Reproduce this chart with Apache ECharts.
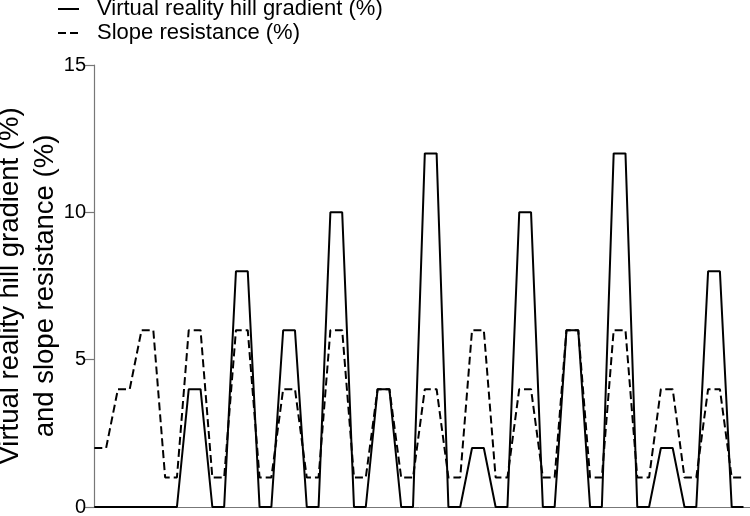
<!DOCTYPE html>
<html>
<head>
<meta charset="utf-8">
<script src="https://cdn.jsdelivr.net/npm/echarts@6/dist/echarts.min.js"></script>
<style>
	html, body { margin: 0; padding: 0; background: #fff; }
	#chart { width: 750px; height: 516px; }
</style>
</head>
<body>
<div id="chart"></div>
<script>
// sample index along the protocol (one point per step)
var steps = [0, 1, 2, 3, 4, 5, 6, 7, 8, 9, 10, 11, 12, 13, 14, 15, 16, 17, 18, 19,
	20, 21, 22, 23, 24, 25, 26, 27, 28, 29, 30, 31, 32, 33, 34, 35, 36, 37, 38, 39,
	40, 41, 42, 43, 44, 45, 46, 47, 48, 49, 50, 51, 52, 53, 54, 55];

var hillGradient = [0, 0, 0, 0, 0, 0, 0, 0,
	4, 4, 0, 0, 8, 8, 0, 0, 6, 6, 0, 0, 10, 10, 0, 0,
	4, 4, 0, 0, 12, 12, 0, 0, 2, 2, 0, 0, 10, 10, 0, 0,
	6, 6, 0, 0, 12, 12, 0, 0, 2, 2, 0, 0, 8, 8, 0, 0];

var slopeResistance = [2, 2, 4, 4, 6, 6, 1, 1,
	6, 6, 1, 1, 6, 6, 1, 1, 4, 4, 1, 1, 6, 6, 1, 1,
	4, 4, 1, 1, 4, 4, 1, 1, 6, 6, 1, 1, 4, 4, 1, 1,
	6, 6, 1, 1, 6, 6, 1, 1, 4, 4, 1, 1, 4, 4, 1, 1];

var yTicks = [0, 5, 10, 15];

var name1 = 'Virtual reality hill gradient (%)';
var name2 = 'Slope resistance (%)';

function pairs(xs, ys) {
	let out = [];
	for (let i = 0; i < xs.length; i++) {
		out.push([xs[i], ys[i]]);
	}
	return out;
}

let chartDom = document.getElementById('chart');
let myChart = echarts.init(chartDom, null, { renderer: 'canvas' });
let option;

option = {
	animation: false,
	textStyle: { fontFamily: 'Liberation Sans' },
	legend: {
		data: [name1, name2],
		orient: 'vertical',
		left: 57,
		top: -3,
		padding: 0,
		itemGap: 0,
		itemWidth: 21,
		itemHeight: 14,
		// hide the marker dot, keep only the line sample
		itemStyle: { color: 'rgba(0,0,0,0)', borderWidth: 0 },
		textStyle: {
			fontSize: 22,
			lineHeight: 24,
			color: '#000',
			padding: [0, 0, 0, 13]
		}
	},
	grid: {
		left: 89,
		right: 0,
		top: 65,
		bottom: 9,
		containLabel: false,
		outerBoundsMode: 'none'
	},
	xAxis: {
		type: 'value',
		min: -0.45,
		max: 55.55,
		axisLine: { show: true, lineStyle: { color: '#777', width: 1 } },
		axisTick: { show: false },
		axisLabel: { show: false },
		splitLine: { show: false }
	},
	yAxis: {
		type: 'value',
		min: yTicks[0],
		max: yTicks[yTicks.length - 1],
		interval: 5,
		name: name1 + '\nand slope resistance (%)',
		nameLocation: 'middle',
		nameRotate: 90,
		nameGap: 26,
		nameMoveOverlap: false,
		nameTextStyle: {
			fontSize: 27.5,
			lineHeight: 35,
			color: '#000'
		},
		axisLine: { show: true, lineStyle: { color: '#777', width: 1.2 } },
		axisTick: { show: true, length: 10, lineStyle: { color: '#777', width: 1.2 } },
		axisLabel: { fontSize: 20, color: '#000', margin: 3 },
		splitLine: { show: false }
	},
	series: [{
		name: name2,
		type: 'line',
		symbol: 'none',
		data: pairs(steps, slopeResistance),
		lineStyle: { color: '#000', width: 2, type: [8, 4] },
		itemStyle: { color: '#000' },
		z: 2
	}, {
		name: name1,
		type: 'line',
		symbol: 'none',
		data: pairs(steps, hillGradient),
		lineStyle: { color: '#000', width: 2 },
		itemStyle: { color: '#000' },
		z: 3
	}]
};
option && myChart.setOption(option);
</script>
</body>
</html>
